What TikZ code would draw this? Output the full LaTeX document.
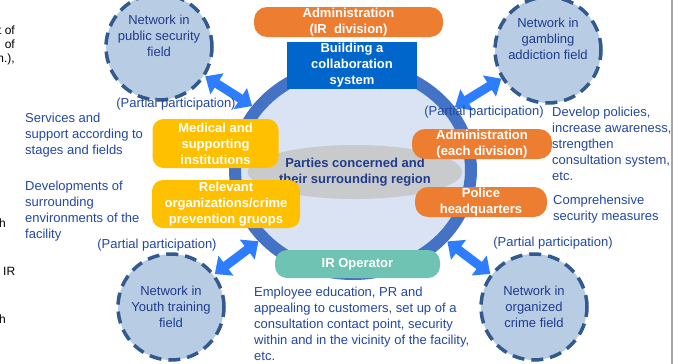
\documentclass[tikz,border=0pt]{standalone}
\usepackage{fontspec}
\setmainfont{Liberation Sans}
\usetikzlibrary{shapes}
\usetikzlibrary{arrows.meta}
\definecolor{ringblue}{HTML}{4472C4}
\definecolor{ringfill}{HTML}{DAE3F3}
\definecolor{coregray}{HTML}{C9CACC}
\definecolor{netfill}{HTML}{B8CCE4}
\definecolor{netedge}{HTML}{335A8C}
\definecolor{orgorange}{HTML}{ED7D31}
\definecolor{orggold}{HTML}{FFC000}
\definecolor{orgteal}{HTML}{6EC3B3}
\definecolor{buildblue}{HTML}{0066CC}
\definecolor{linkblue}{HTML}{2F7DFF}
\definecolor{navy}{HTML}{1F3C8C}
\definecolor{notetext}{HTML}{2248A0}
\newcommand{\D}{\fontsize{13}{16}\selectfont}
\tikzset{
    ring/.style = {ellipse, draw=ringblue, line width=12pt, fill=ringfill, minimum width=236pt, minimum height=208pt, inner sep=0pt},
    core/.style = {ellipse, fill=coregray, minimum width=146pt, minimum height=54pt, inner sep=0pt, align=center, text=navy, font=\D\bfseries},
    netnode/.style = {circle, draw=netedge, fill=netfill, line width=3.5pt, dash pattern=on 12pt off 7pt, minimum size=106pt, inner sep=0pt, align=center, text=navy, font=\D},
    boxo/.style = {rectangle, rounded corners=13pt, fill=orgorange, text=white, align=center, font=\D\bfseries, inner sep=0pt},
    boxy/.style = {rectangle, rounded corners=11pt, fill=orggold, text=white, align=center, font=\D\bfseries, inner sep=0pt},
    boxt/.style = {rectangle, rounded corners=12pt, fill=orgteal, text=white, align=center, font=\D\bfseries, inner sep=0pt},
    boxb/.style = {rectangle, fill=buildblue, text=white, align=center, font=\D\bfseries, inner sep=0pt},
    edgep/.style = {{Triangle[width=24pt,length=14pt]}-{Triangle[width=24pt,length=14pt]}, line width=9pt, draw=linkblue},
    note/.style = {anchor=west, align=left, text=notetext, inner sep=0pt, font=\D},
    part/.style = {text=notetext, inner sep=0pt, font=\D},
    cut/.style = {inner sep=0pt, font=\fontsize{12}{14}\selectfont}
}

\begin{document}
\begin{tikzpicture}[x=1pt,y=-1pt]
\useasboundingbox (0,0) rectangle (680,364);
\fill[white] (0,0) rectangle (680,364);
% centre
\node[ring] at (353,170) (ring) {};
\node[core] at (355,172) (core) {Parties concerned and\\their surrounding region};
%
\node[boxo, minimum width=189pt, minimum height=30pt] at (348.5,22) (adminir) {Administration\\(IR~ division)};
\node[boxb, minimum width=130pt, minimum height=47pt] at (352,65.5) (build) {Building a\\collaboration\\system};
\node[boxy, minimum width=126pt, minimum height=49pt] at (215.5,143.5) (medical) {Medical and\\supporting\\institutions};
\node[boxy, minimum width=148pt, minimum height=48pt] at (226,204) (relevant) {Relevant\\organizations/crime\\prevention gruops};
\node[boxo, minimum width=140pt, minimum height=30pt] at (482,144) (admineach) {Administration\\(each division)};
\node[boxo, minimum width=132pt, minimum height=30pt] at (481,202) (police) {Police\\headquarters};
\node[boxt, minimum width=165pt, minimum height=28pt] at (357.5,264) (operator) {IR Operator};
% networks
\node[netnode] at (159,47) (netpub) {Network in\\public security\\field\\[7pt]};
\node[netnode] at (548,50) (netgamb) {Network in\\gambling\\addiction field\\[7pt]};
\node[netnode] at (171,307) (netyouth) {Network in\\Youth training\\field};
\node[netnode] at (534,307) (netcrime) {Network in\\organized\\crime field};
%
\draw[edgep] (netpub) -- (ring);
\draw[edgep] (netgamb) -- (ring);
\draw[edgep] (netyouth) -- (ring);
\draw[edgep] (netcrime) -- (ring);
%
\node[part] at (176,104) (ppub) {(Partial participation)};
\node[part] at (484,112) (pgamb) {(Partial participation)};
\node[part] at (157,245) (pyouth) {(Partial participation)};
\node[part] at (553,243) (pcrime) {(Partial participation)};
% notes
\node[note] at (25,135) (nservices) {Services and\\support according to\\stages and fields};
\node[note] at (25,211) (ndevelop) {Developments of\\surrounding\\environments of the\\facility};
\node[note] at (552,144) (npolicy) {Develop policies,\\increase awareness,\\strengthen\\consultation system,\\etc.};
\node[note] at (553,209) (nsecurity) {Comprehensive\\security measures};
\node[note] at (254,324) (nemployee) {Employee education, PR and\\appealing to customers, set up of a\\consultation contact point, security\\within and in the vicinity of the facility,\\etc.};
% cut-off text at the left edge
\node[cut, anchor=east, align=right] at (15,45) (cuta) {t of\\of\\n.),};
\node[cut, anchor=west] at (-1,223) (cutb) {h};
\node[cut, anchor=west] at (3,271) (cutc) {IR};
\node[cut, anchor=west] at (-1,319) (cutd) {h};
\draw[gray!70, line width=1.5pt] (672,0) -- (672,364);
\end{tikzpicture}
\end{document}
